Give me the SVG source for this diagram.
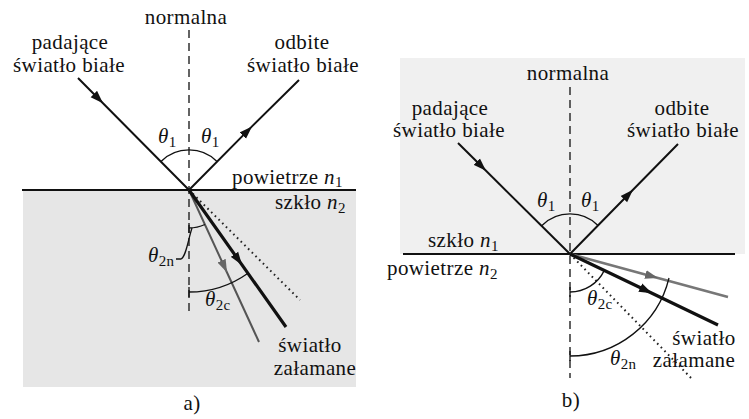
<svg xmlns="http://www.w3.org/2000/svg" width="749" height="419" viewBox="0 0 749 419">
<style>
text{font-family:'Liberation Serif','Times New Roman',serif;font-size:21px;fill:#111;letter-spacing:0.4px}
.it{font-style:italic}
.sub{font-size:15px;font-style:normal}
.ray{fill:none;stroke:#111;stroke-width:2}
.thick{fill:none;stroke:#111;stroke-width:3.2}
.gray{fill:none;stroke:#555;stroke-width:2}
.grayb{fill:none;stroke:#777;stroke-width:2.6}
.normal{fill:none;stroke:#222;stroke-width:1.4;stroke-dasharray:8 5}
.dot{fill:none;stroke:#222;stroke-width:2;stroke-dasharray:1.6 3.6}
.iface{fill:none;stroke:#111;stroke-width:2}
.arc{fill:none;stroke:#111;stroke-width:1.3}
</style>
<defs>
<marker id="arr" markerUnits="userSpaceOnUse" markerWidth="14" markerHeight="10" refX="13" refY="5" orient="auto"><path d="M0,0.5 L13,5 L0,9.5 z" fill="#111"/></marker>
<marker id="arrg" markerUnits="userSpaceOnUse" markerWidth="14" markerHeight="10" refX="13" refY="5" orient="auto"><path d="M0,0.5 L13,5 L0,9.5 z" fill="#666"/></marker>
</defs>
<rect width="749" height="419" fill="#fff"/>
<g id="a-media">
<rect x="23" y="190" width="333" height="197" fill="#e6e6e6"/>
<line class="iface" x1="22" y1="190" x2="356" y2="190"/>
</g>
<g id="a-connectors">
<line class="normal" x1="189" y1="30" x2="189" y2="313"/>
<path class="ray" d="M78,78 L103,103.2 L189,190" marker-mid="url(#arr)"/>
<path class="ray" d="M189,190 L252,126.4 L299,80" marker-mid="url(#arr)"/>
<path class="dot" d="M189,190 L300,300"/>
<path class="gray" d="M189,190 L227,272.5 L259,342" marker-mid="url(#arrg)"/>
<path class="thick" d="M189,190 L242,264.9 L286,327" marker-mid="url(#arr)"/>
<path class="arc" d="M160.7,161.7 A40,40 0 0 1 217.3,161.7"/>
<path class="arc" d="M189,228 A38,38 0 0 0 204.9,224.5"/>
<path class="arc" d="M189,292 A102,102 0 0 0 248,273.2"/>
<path class="arc" d="M189,223 V233 M189,287 V297"/>
<path class="arc" d="M176,259 L181,259 C186,257 188,240 192,228"/>
</g>
<g id="a-labels" font-family="Liberation Serif, serif">
<text x="186" y="24" text-anchor="middle">normalna</text>
<text x="70" y="49" text-anchor="middle">padające</text>
<text x="69" y="72" text-anchor="middle">światło białe</text>
<text x="302" y="49" text-anchor="middle">odbite</text>
<text x="303" y="72" text-anchor="middle">światło białe</text>
<text x="158" y="143" class="it">θ<tspan class="sub" dy="4">1</tspan></text>
<text x="201" y="143" class="it">θ<tspan class="sub" dy="4">1</tspan></text>
<text x="232" y="184">powietrze <tspan class="it">n</tspan><tspan class="sub" dy="3">1</tspan></text>
<text x="275" y="209">szkło <tspan class="it">n</tspan><tspan class="sub" dy="4">2</tspan></text>
<text x="148" y="262" class="it">θ<tspan class="sub" dy="4">2n</tspan></text>
<text x="205" y="306" class="it">θ<tspan class="sub" dy="4">2c</tspan></text>
<text x="310" y="352" text-anchor="middle">światło</text>
<text x="315" y="375" text-anchor="middle">załamane</text>
<text x="192" y="410" text-anchor="middle">a)</text>
</g>
<g id="b-media">
<rect x="400" y="58" width="345" height="196" fill="#f0f0f0"/>
<line class="iface" x1="403" y1="254" x2="735" y2="254"/>
</g>
<g id="b-connectors">
<line class="normal" x1="570" y1="87" x2="570" y2="378"/>
<path class="ray" d="M458,143 L486,170.75 L570,254" marker-mid="url(#arr)"/>
<path class="ray" d="M570,254 L633,189.8 L678,144" marker-mid="url(#arr)"/>
<path class="dot" d="M570,254 L693,380"/>
<path class="grayb" d="M570,254 L658,277.9 L728,297" marker-mid="url(#arrg)"/>
<path class="thick" d="M570,254 L652,293.3 L718,325" marker-mid="url(#arr)"/>
<path class="arc" d="M541.7,225.7 A40,40 0 0 1 598.3,225.7"/>
<path class="arc" d="M570,292 A38,38 0 0 0 604.3,270.4"/>
<path class="arc" d="M570,356 A102,102 0 0 0 669,278"/>
<path class="arc" d="M570,287 V297 M570,351 V361"/>
</g>
<g id="b-labels">
<text x="568" y="80" text-anchor="middle">normalna</text>
<text x="450" y="115" text-anchor="middle">padające</text>
<text x="449" y="137" text-anchor="middle">światło białe</text>
<text x="682" y="115" text-anchor="middle">odbite</text>
<text x="683" y="137" text-anchor="middle">światło białe</text>
<text x="537" y="207" class="it">θ<tspan class="sub" dy="4">1</tspan></text>
<text x="581" y="207" class="it">θ<tspan class="sub" dy="4">1</tspan></text>
<text x="428" y="247">szkło <tspan class="it">n</tspan><tspan class="sub" dy="4">1</tspan></text>
<text x="387" y="275">powietrze <tspan class="it">n</tspan><tspan class="sub" dy="4">2</tspan></text>
<text x="587" y="305" class="it">θ<tspan class="sub" dy="4">2c</tspan></text>
<text x="610" y="365" class="it">θ<tspan class="sub" dy="4">2n</tspan></text>
<text x="704" y="345" text-anchor="middle">światło</text>
<text x="694" y="367" text-anchor="middle">załamane</text>
<text x="571" y="407" text-anchor="middle">b)</text>
</g>
</svg>
